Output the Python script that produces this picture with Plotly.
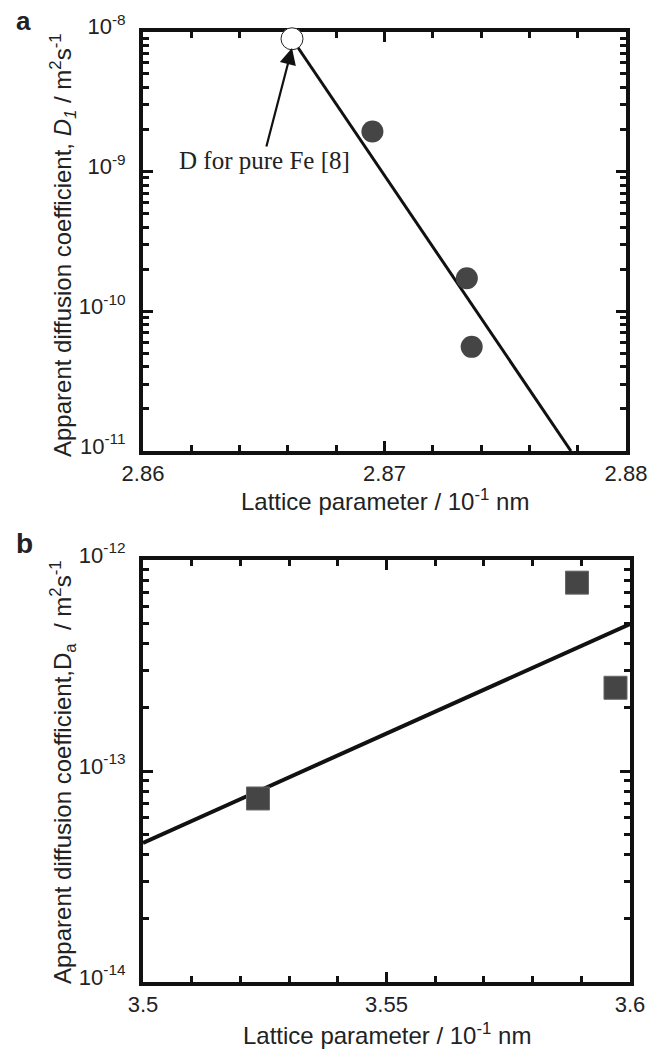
import plotly.graph_objects as go

# the page body adds an 8 px margin, so the figure is drawn 8 px smaller
OFF = 8
W, H = 659 - OFF, 1050 - OFF

# ---------------- data ----------------
# panel a
a_fe_x = [2.86617]
a_fe_y = [8.9e-9]
a_x = [2.86950, 2.87341, 2.87361]
a_y = [1.93e-9, 1.72e-10, 5.56e-11]
a_fit_x = [2.86617, 2.87772]
a_fit_y = [8.9e-9, 1.0e-11]
a_xticks = [2.86, 2.87, 2.88]
a_xticktext = ["2.86", "2.87", "2.88"]
a_xminor = [2.862, 2.864, 2.866, 2.868, 2.872, 2.874, 2.876, 2.878]
a_ydecades = [-11, -10, -9, -8]

# panel b
b_x = [3.52361, 3.58912, 3.59702]
b_y = [7.41e-14, 7.81e-13, 2.48e-13]
b_fit_x = [3.5, 3.6]
b_fit_y = [4.56e-14, 4.97e-13]
b_xticks = [3.5, 3.55, 3.6]
b_xticktext = ["3.5", "3.55", "3.6"]
b_xminor = [3.51, 3.52, 3.53, 3.54, 3.56, 3.57, 3.58, 3.59]
b_ydecades = [-14, -13, -12]

x_title = "Lattice parameter / 10<sup>-1</sup> nm"
a_y_title = "Apparent diffusion coefficient, <i>D</i><sub><i>1</i></sub> / m<sup>2</sup>s<sup>-1</sup>"
b_y_title = "Apparent diffusion coefficient,D<sub>a</sub>&nbsp;&nbsp;/ m<sup>2</sup>s<sup>-1</sup>"
fe_note = "D for pure Fe [8]"

# ---------------- layout helpers (page pixels -> paper fractions) ----------------
def px(x):
    return (x - OFF) / W

def py(y):
    return 1 - (y - OFF) / H

SANS = "Liberation Sans, Arial, sans-serif"
SERIF = "Liberation Serif, Times New Roman, serif"
INK = "#111111"
TXT = "#222222"
MARK = "#454545"

def decade_vals(decs):
    return [10.0 ** d for d in decs]

def decade_text(decs):
    return ["10<sup>%d</sup>" % d for d in decs]

def minor_vals(decs):
    out = []
    for d in decs[:-1]:
        for k in range(2, 10):
            out.append(k * 10.0 ** d)
    return out

common_axis = dict(
    showline=True, linecolor=INK, linewidth=4, mirror="allticks",
    ticks="inside", ticklen=10, tickwidth=3, tickcolor=INK,
    showgrid=False, zeroline=False, automargin=False,
    tickfont=dict(family=SANS, size=22, color=TXT),
    layer="below traces",
)
y_extra = dict(ticklabelstandoff=9, ticklabelshift=-5)

fig = go.Figure()

# panel a traces
fig.add_trace(go.Scatter(x=a_fit_x, y=a_fit_y, mode="lines",
                         line=dict(color=INK, width=3), xaxis="x", yaxis="y",
                         showlegend=False, cliponaxis=False))
fig.add_trace(go.Scatter(x=a_x, y=a_y, mode="markers",
                         marker=dict(symbol="circle", size=22, color=MARK, line=dict(width=0)),
                         xaxis="x", yaxis="y", showlegend=False, cliponaxis=False))
fig.add_trace(go.Scatter(x=a_fe_x, y=a_fe_y, mode="markers",
                         marker=dict(symbol="circle", size=22, color="white",
                                     line=dict(width=1, color="#222222")),
                         xaxis="x", yaxis="y", showlegend=False, cliponaxis=False))

# panel b traces
fig.add_trace(go.Scatter(x=b_fit_x, y=b_fit_y, mode="lines",
                         line=dict(color=INK, width=4), xaxis="x2", yaxis="y2",
                         showlegend=False, cliponaxis=False))
fig.add_trace(go.Scatter(x=b_x, y=b_y, mode="markers",
                         marker=dict(symbol="square", size=23, color=MARK,
                                     line=dict(width=1, color="#666666")),
                         xaxis="x2", yaxis="y2", showlegend=False, cliponaxis=False))

fig.update_layout(
    width=W, height=H,
    margin=dict(l=0, r=0, t=0, b=0, pad=0, autoexpand=False),
    paper_bgcolor="white", plot_bgcolor="white",
    showlegend=False,
    xaxis=dict(common_axis, domain=[px(143), px(626)], range=[2.86, 2.88],
               tickmode="array", tickvals=a_xticks, ticktext=a_xticktext,
               minor=dict(tickmode="array", tickvals=a_xminor, ticks="inside",
                          ticklen=6, tickwidth=3, tickcolor=INK),
               anchor="y"),
    yaxis=dict(common_axis, **y_extra, domain=[py(451), py(31.7)], type="log", range=[-11, -8],
               tickmode="array", tickvals=decade_vals(a_ydecades),
               ticktext=decade_text(a_ydecades),
               minor=dict(tickmode="array", tickvals=minor_vals(a_ydecades), ticks="inside",
                          ticklen=6, tickwidth=3, tickcolor=INK),
               anchor="x"),
    xaxis2=dict(common_axis, domain=[px(143), px(630)], range=[3.5, 3.6],
                tickmode="array", tickvals=b_xticks, ticktext=b_xticktext,
                minor=dict(tickmode="array", tickvals=b_xminor, ticks="inside",
                           ticklen=6, tickwidth=3, tickcolor=INK),
                anchor="y2"),
    yaxis2=dict(common_axis, **y_extra, domain=[py(982), py(560)], type="log", range=[-14, -12],
                tickmode="array", tickvals=decade_vals(b_ydecades),
                ticktext=decade_text(b_ydecades),
                minor=dict(tickmode="array", tickvals=minor_vals(b_ydecades), ticks="inside",
                           ticklen=6, tickwidth=3, tickcolor=INK),
                anchor="x2"),
)

ann = []
# panel labels
ann.append(dict(text="<b>a</b>", x=px(14), y=py(21), xref="paper", yref="paper",
                xanchor="left", yanchor="middle", showarrow=False,
                font=dict(family=SANS, size=26, color=TXT)))
ann.append(dict(text="<b>b</b>", x=px(14), y=py(543), xref="paper", yref="paper",
                xanchor="left", yanchor="middle", showarrow=False,
                font=dict(family=SANS, size=28, color=TXT)))
# x titles
ann.append(dict(text=x_title, x=px(384.5), y=py(500), xref="paper", yref="paper",
                xanchor="center", yanchor="middle", showarrow=False,
                font=dict(family=SANS, size=24, color=TXT)))
ann.append(dict(text=x_title, x=px(386.5), y=py(1034), xref="paper", yref="paper",
                xanchor="center", yanchor="middle", showarrow=False,
                font=dict(family=SANS, size=24, color=TXT)))
# y titles
ann.append(dict(text=a_y_title, x=px(63), y=py(245), xref="paper", yref="paper",
                xanchor="center", yanchor="middle", textangle=-90, showarrow=False,
                font=dict(family=SANS, size=24, color=TXT)))
ann.append(dict(text=b_y_title, x=px(63), y=py(772), xref="paper", yref="paper",
                xanchor="center", yanchor="middle", textangle=-90, showarrow=False,
                font=dict(family=SANS, size=24, color=TXT)))
# note + arrow
ann.append(dict(text=fe_note, x=px(264.5), y=py(160), xref="paper", yref="paper",
                xanchor="center", yanchor="middle", showarrow=False,
                font=dict(family=SERIF, size=25, color=TXT)))
ann.append(dict(text="", x=px(292), y=py(48), xref="paper", yref="paper",
                ax=-26, ay=100, axref="pixel", ayref="pixel",
                showarrow=True, arrowhead=2, arrowsize=1.5, arrowwidth=2.2,
                arrowcolor=INK))
fig.update_layout(annotations=ann)

fig.write_html("out.html")
